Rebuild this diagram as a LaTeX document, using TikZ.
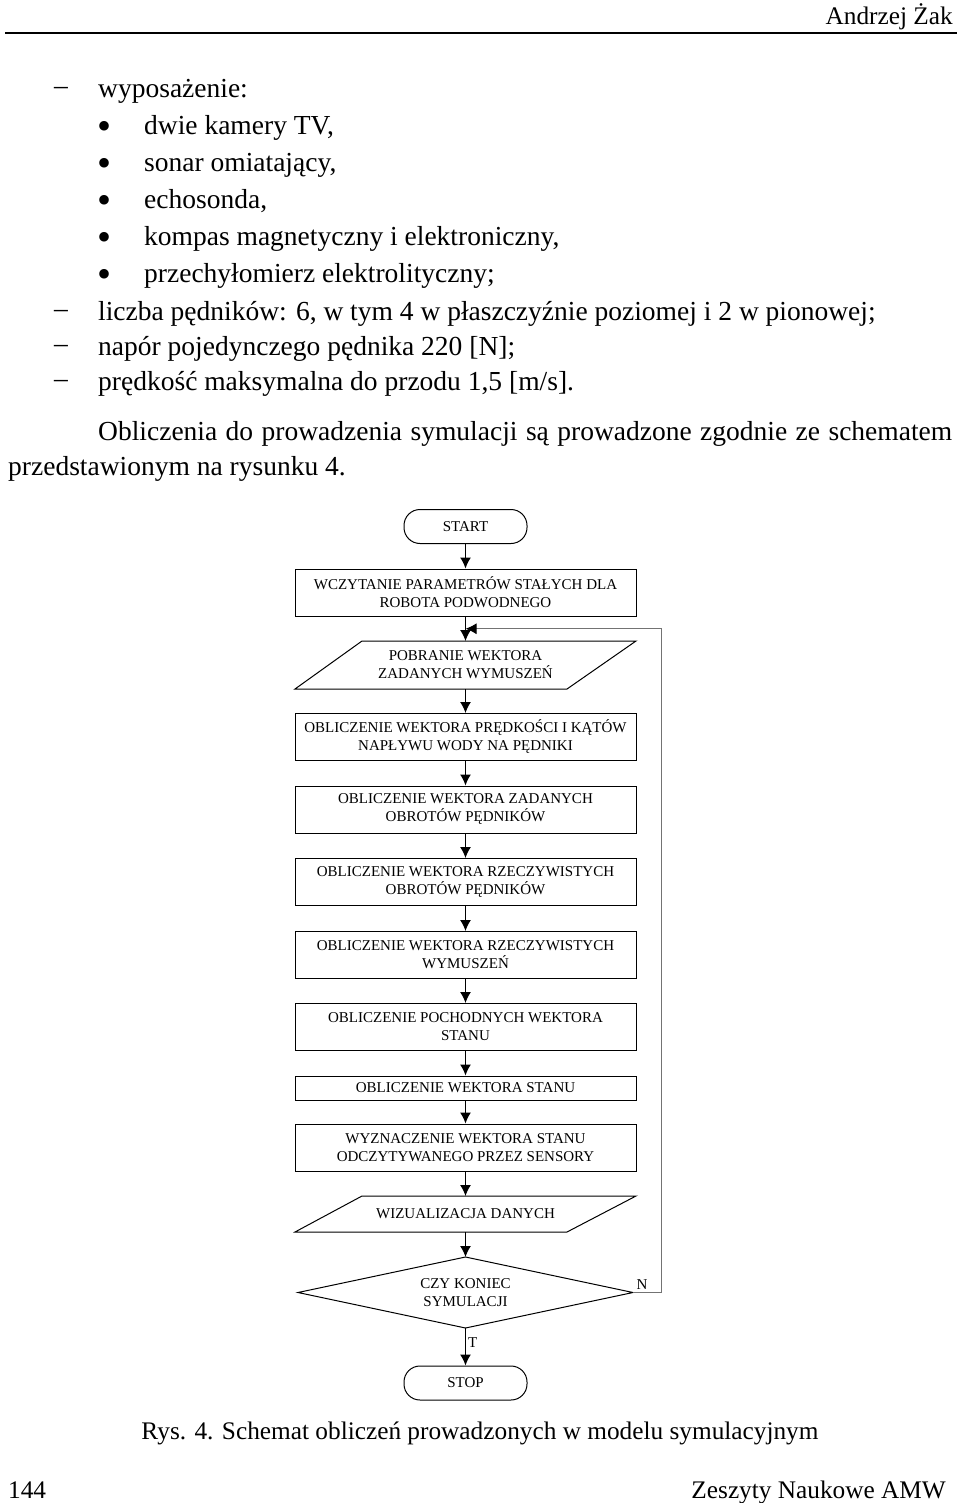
\documentclass[tikz,border=0pt]{standalone}
\usepackage{fontspec}
\setmainfont{Liberation Serif}
\usetikzlibrary{calc,arrows.meta}

\begin{document}
\begin{tikzpicture}[x=1pt,y=-1pt,
    bodytext/.style={font=\fontsize{27.5}{36}\selectfont,inner sep=0pt},
    pagetext/.style={font=\fontsize{25.3}{30}\selectfont,inner sep=0pt},
    chartfont/.style={font=\fontsize{15}{18}\selectfont},
    blocknode/.style={chartfont,draw,line width=1pt,minimum width=341pt,minimum height=47pt,align=center,inner sep=1pt},
    ionode/.style={chartfont,minimum width=341pt,minimum height=48pt,align=center,inner sep=1pt,outer sep=0pt},
    termnode/.style={chartfont,draw,line width=1pt,rounded corners=16pt,minimum width=123pt,minimum height=34pt,inner sep=1pt},
    flowarrow/.style={line width=1.3pt,-{Latex[length=11pt,width=11pt]}},
    loopline/.style={black!55,line width=1pt,-{Latex[length=11pt,width=11pt,color=black]}}]

  \useasboundingbox (0,0) rectangle (960,1503);

  %% Header
  \node[pagetext,anchor=base east] (autor) at (953,25) {Andrzej Żak};
  \draw[line width=2pt] (5,33) -- (957,33);

  %% Lista
  \foreach \yy/\txt in {98/{wyposażenie:},
                        320/{liczba pędników: 6, w tym 4 w płaszczyźnie poziomej i 2 w pionowej;},
                        355/{napór pojedynczego pędnika 220 [N];},
                        390/{prędkość maksymalna do przodu 1,5 [m/s].}}{
    \node[bodytext,anchor=base] (dash\yy) at (61,\yy) {\raisebox{3pt}{–}};
    \node[bodytext,anchor=base west] (item\yy) at (98,\yy) {\txt};
  }
  \foreach \yy/\txt in {135/{dwie kamery TV,},
                        172/{sonar omiatający,},
                        209/{echosonda,},
                        246/{kompas magnetyczny i elektroniczny,},
                        283/{przechyłomierz elektrolityczny;}}{
    \node[bodytext,anchor=base] (bul\yy) at (105,\yy) {\raisebox{-5pt}{\fontsize{40}{40}\selectfont •}};
    \node[bodytext,anchor=base west] (item\yy) at (144,\yy) {\txt};
  }

  %% Akapit
  \node[bodytext,anchor=base west] (par1) at (98,440)
    {\makebox[854pt][s]{Obliczenia do prowadzenia symulacji są prowadzone zgodnie ze schematem}};
  \node[bodytext,anchor=base west] (par2) at (8,475) {przedstawionym na rysunku 4.};

  %% Schemat
  \node[termnode] (start) at (465.5,526.5) {START};
  \foreach \nm/\yy/\txt in {wczyt/592.5/{WCZYTANIE PARAMETRÓW STAŁYCH DLA\\ROBOTA PODWODNEGO},
                            predk/737/{OBLICZENIE WEKTORA PRĘDKOŚCI I KĄTÓW\\NAPŁYWU WODY NA PĘDNIKI},
                            zadobr/809.5/{OBLICZENIE WEKTORA ZADANYCH\\OBROTÓW PĘDNIKÓW},
                            rzobr/882/{OBLICZENIE WEKTORA RZECZYWISTYCH\\OBROTÓW PĘDNIKÓW},
                            rzwym/955/{OBLICZENIE WEKTORA RZECZYWISTYCH\\WYMUSZEŃ},
                            poch/1027/{OBLICZENIE POCHODNYCH WEKTORA\\STANU},
                            sensor/1147.5/{WYZNACZENIE WEKTORA STANU\\ODCZYTYWANEGO PRZEZ SENSORY}}{
    \node[blocknode] (\nm) at (465.5,\yy) {\txt};
  }
  \node[blocknode,minimum height=24pt] (stan) at (465.5,1088) {OBLICZENIE WEKTORA STANU};

  %% Wejscie / wyjscie (rownolegloboki)
  \node[ionode] (pobr) at (465.5,665) {POBRANIE WEKTORA\\ZADANYCH WYMUSZEŃ};
  \node[ionode,minimum height=36pt] (wizual) at (465.5,1214) {WIZUALIZACJA DANYCH};
  \foreach \nm in {pobr,wizual}{
    \draw[line width=1pt] (\nm.south west) -- ($(\nm.south east)+(-69,0)$)
      -- (\nm.north east) -- ($(\nm.north west)+(67,0)$) -- cycle;
  }

  %% Decyzja
  \node[chartfont,minimum width=335pt,minimum height=71pt,align=center,inner sep=1pt,outer sep=0pt]
    (koniec) at (465.5,1292.5) {CZY KONIEC\\SYMULACJI};
  \draw[line width=1pt] (koniec.north) -- (koniec.east) -- (koniec.south) -- (koniec.west) -- cycle;

  \node[termnode] (stop) at (465.5,1383) {STOP};

  %% Strzalki
  \foreach \a/\b in {start/wczyt,wczyt/pobr,pobr/predk,predk/zadobr,zadobr/rzobr,
                     rzobr/rzwym,rzwym/poch,poch/stan,stan/sensor,sensor/wizual,wizual/koniec}{
    \draw[flowarrow] (\a) -- (\b);
  }
  \draw[flowarrow] (koniec.south) -- node[chartfont,pos=.4,right,inner sep=2pt] {T} (stop);

  %% Petla powrotna
  \coordinate (join) at ($(wczyt.south)!.5!(pobr.north)$);
  \draw[loopline] (koniec.east) node[chartfont,above right,inner sep=3pt,black] {N}
    -- ++(28,0) |- (join);

  %% Podpis i stopka
  \node[pagetext,anchor=base] (podpis) at (480,1439)
    {Rys. 4. Schemat obliczeń prowadzonych w modelu symulacyjnym};
  \node[pagetext,anchor=base west] (strona) at (8,1498) {144};
  \node[pagetext,anchor=base east] (zeszyt) at (946,1498) {Zeszyty Naukowe AMW};

\end{tikzpicture}
\end{document}
